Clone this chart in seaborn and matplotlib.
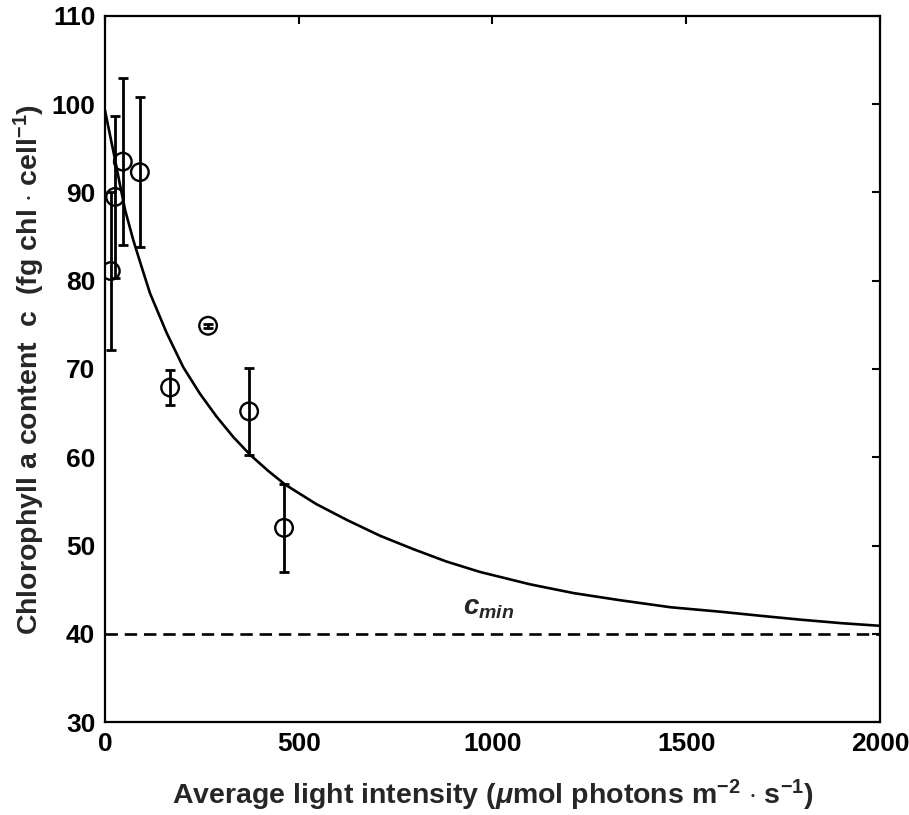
import numpy as np
import pandas as pd
import matplotlib
matplotlib.use("Agg")
import matplotlib.pyplot as plt
import seaborn as sns

# ---- data ----
light = [15, 26, 46, 90, 168, 266, 372, 462]
chl = [81.1, 89.5, 93.5, 92.3, 67.9, 74.9, 65.2, 52.0]
chl_err = [9.0, 9.2, 9.5, 8.5, 2.0, 0.2, 4.9, 5.0]

curve_I = [0, 13, 26, 39, 52, 73, 95, 116, 138, 159, 181, 202, 245, 288,
           331, 374, 420, 465, 545, 624, 710, 795, 880, 968, 1097, 1210,
           1329, 1460, 1587, 1700, 1794, 1900, 2000]
curve_c = [99.3, 96.5, 93.7, 90.8, 88.0, 84.6, 81.5, 78.6, 76.3, 74.1, 72.1,
           70.2, 67.2, 64.6, 62.3, 60.3, 58.5, 56.9, 54.7, 52.9, 51.1, 49.6,
           48.2, 47.0, 45.6, 44.6, 43.8, 43.0, 42.5, 42.0, 41.6, 41.2, 40.9]

cmin_I = [0, 2000]
cmin_c = [40, 40]

x_ticks = [0, 500, 1000, 1500, 2000]
y_ticks = [30, 40, 50, 60, 70, 80, 90, 100, 110]

sns.set_theme(style="white")
plt.rcParams['font.family'] = ['Liberation Sans', 'DejaVu Sans']
plt.rcParams['font.weight'] = 'bold'
plt.rcParams['mathtext.fontset'] = 'custom'
plt.rcParams['mathtext.rm'] = 'Liberation Sans:bold'
plt.rcParams['mathtext.it'] = 'Liberation Sans:italic:bold'
plt.rcParams['mathtext.bf'] = 'Liberation Sans:bold'
plt.rcParams['mathtext.sf'] = 'Liberation Sans:bold'

fig = plt.figure(figsize=(9.09, 8.15), dpi=100)
ax = fig.add_axes([105/909, 1-722/815, (880-105)/909, (722-16)/815])

df_curve = pd.DataFrame({"I": curve_I, "c": curve_c})
df_min = pd.DataFrame({"I": cmin_I, "c": cmin_c})
df_pts = pd.DataFrame({"I": light, "c": chl, "err": chl_err})

sns.lineplot(data=df_curve, x="I", y="c", ax=ax, color="black", lw=1.9,
             sort=True, estimator=None)
sns.lineplot(data=df_min, x="I", y="c", ax=ax, color="black", lw=1.9,
             estimator=None, linestyle=(0, (4.7, 2.6)))
ax.errorbar(df_pts["I"], df_pts["c"], yerr=df_pts["err"], fmt="none",
            ecolor="black", elinewidth=2.0, capsize=3.8, capthick=2.0, zorder=3)
sns.scatterplot(data=df_pts, x="I", y="c", ax=ax, marker="o", s=160,
                facecolor="none", edgecolor="black", linewidth=1.7, zorder=4)

ax.text(990, 41.4, r"$c_{min}$", ha="center", va="bottom", fontsize=20,
        fontweight="bold")

ax.set_xlim(0, 2000)
ax.set_ylim(30, 110)
ax.set_xticks(x_ticks)
ax.set_yticks(y_ticks)
ax.tick_params(direction="in", length=6, width=1.5, top=True, right=True,
               labelsize=19, pad=7, colors="black")
for lab in ax.get_xticklabels() + ax.get_yticklabels():
    lab.set_fontweight("bold")
for sp in ax.spines.values():
    sp.set_linewidth(1.6)
    sp.set_color("black")

ax.set_xlabel(r"Average light intensity ($\mu$mol photons m$^{\mathbf{-2}}$ $\cdot$ s$^{\mathbf{-1}}$)",
              fontsize=20.5, fontweight="bold", labelpad=16)
ax.set_ylabel(r"Chlorophyll a content  c  (fg chl $\cdot$ cell$^{\mathbf{-1}}$)",
              fontsize=20.5, fontweight="bold", labelpad=3)
ax.grid(False)

fig.savefig("out.png", dpi=100, facecolor="white")
